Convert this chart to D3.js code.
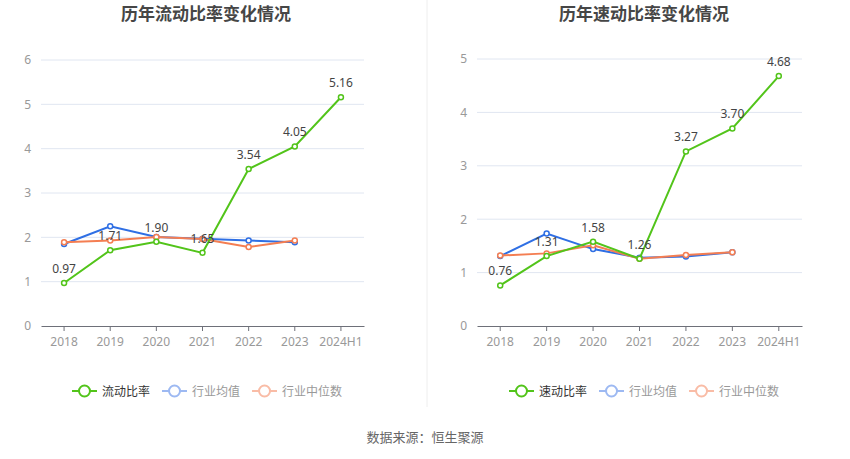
<!DOCTYPE html>
<html>
<head>
<meta charset="utf-8">
<script src="https://cdn.jsdelivr.net/npm/d3@7"></script>
<style>
  body { margin: 0; background: #fff; }
  svg { display: block; font-family: "Noto Sans CJK SC", "Noto Sans", sans-serif; }
</style>
</head>
<body>
<svg id="chart"></svg>
<script>
const years = ['2018', '2019', '2020', '2021', '2022', '2023', '2024H1']

// 流动比率
const currentRatio = [0.97, 1.71, 1.90, 1.65, 3.54, 4.05, 5.16]
const currentIndustryAvg = [1.85, 2.25, 2.01, 1.97, 1.93, 1.89]
const currentIndustryMedian = [1.89, 1.93, 2.01, 1.96, 1.78, 1.93]
const currentTicks = [0, 1, 2, 3, 4, 5, 6]

// 速动比率
const quickRatio = [0.76, 1.31, 1.58, 1.26, 3.27, 3.70, 4.68]
const quickIndustryAvg = [1.31, 1.73, 1.44, 1.28, 1.30, 1.38]
const quickIndustryMedian = [1.32, 1.36, 1.51, 1.26, 1.33, 1.38]
const quickTicks = [0, 1, 2, 3, 4, 5]

const width = 850
const height = 459

const green = '#52c41a'
const blue = '#2f6fe4'
const orange = '#f47e52'

const svg = d3.select('#chart')
    .attr('width', width)
    .attr('height', height)

const drawPanel = (opts) => {
    const g = svg.append('g')

    const x = d3.scaleBand()
        .domain(years)
        .range([opts.left, opts.right])
    const y = d3.scaleLinear()
        .domain([0, d3.max(opts.ticks)])
        .range([326, opts.top])

    g.append('text')
        .attr('x', opts.titleX)
        .attr('y', 20)
        .attr('text-anchor', 'middle')
        .style('font-size', '17px')
        .style('font-weight', 'bold')
        .style('fill', '#464646')
        .text(opts.title)

    // grid
    g.append('g')
        .selectAll('line')
        .data(opts.ticks.slice(1))
        .enter()
        .append('line')
        .attr('x1', opts.left)
        .attr('x2', opts.right)
        .attr('y1', d => y(d))
        .attr('y2', d => y(d))
        .attr('stroke', '#e0e6f1')

    const yAxis = d3.axisLeft(y).tickValues(opts.ticks).tickFormat(d3.format('d'))
        .tickSize(0).tickPadding(10)
    const yg = g.append('g')
        .attr('transform', `translate(${opts.left}, 0)`)
        .call(yAxis)
    yg.select('.domain').remove()
    yg.selectAll('text').style('fill', '#999').style('font-size', '12px')
        .style('font-family', '"Noto Sans", sans-serif')

    const xAxis = d3.axisBottom(x).tickSize(5).tickSizeOuter(0).tickPadding(6)
    const xg = g.append('g')
        .attr('transform', 'translate(0, 326)')
        .call(xAxis)
    xg.select('.domain').attr('stroke', '#6e7079')
    xg.selectAll('.tick line').attr('stroke', '#6e7079')
    xg.selectAll('text').style('fill', '#999').style('font-size', '12px')
        .style('font-family', '"Noto Sans", sans-serif')

    const cx = (d, i) => x(years[i]) + x.bandwidth() / 2
    const line = d3.line().x(cx).y(d => y(d))

    const series = [
        { data: opts.avg, color: blue },
        { data: opts.median, color: orange },
        { data: opts.main, color: green }
    ]
    series.forEach(s => {
        g.append('path')
            .datum(s.data)
            .attr('d', line)
            .attr('fill', 'none')
            .attr('stroke', s.color)
            .attr('stroke-width', 2)
        g.append('g')
            .selectAll('circle')
            .data(s.data)
            .enter()
            .append('circle')
            .attr('cx', cx)
            .attr('cy', d => y(d))
            .attr('r', 2.5)
            .attr('fill', '#fff')
            .attr('stroke', s.color)
            .attr('stroke-width', 1.5)
    })

    g.append('g')
        .selectAll('text')
        .data(opts.main)
        .enter()
        .append('text')
        .attr('x', cx)
        .attr('y', d => y(d) - 10)
        .attr('text-anchor', 'middle')
        .style('font-size', '12px')
        .style('font-family', '"Noto Sans", sans-serif')
        .style('fill', '#444')
        .text(d => d.toFixed(2))

    // legend
    const items = [
        { name: opts.mainName, color: green, text: '#333' },
        { name: '行业均值', color: '#9db9f2', text: '#999' },
        { name: '行业中位数', color: '#f9bca6', text: '#999' }
    ]
    let lx = opts.legendX
    items.forEach(it => {
        const lg = g.append('g').attr('transform', `translate(${lx}, 391)`)
        lg.append('line')
            .attr('x1', 0).attr('x2', 25)
            .attr('stroke', it.color).attr('stroke-width', 2)
        lg.append('circle')
            .attr('cx', 12.5).attr('r', 5.5)
            .attr('fill', '#fff')
            .attr('stroke', it.color).attr('stroke-width', 2)
        const t = lg.append('text')
            .attr('x', 30).attr('y', 4.5)
            .style('font-size', '12px')
            .style('fill', it.text)
            .text(it.name)
        lx += 30 + t.node().getComputedTextLength() + 12
    })
}

drawPanel({
    title: '历年流动比率变化情况', titleX: 206,
    left: 41, right: 364, top: 60,
    ticks: currentTicks,
    main: currentRatio, avg: currentIndustryAvg, median: currentIndustryMedian,
    mainName: '流动比率', legendX: 72
})

drawPanel({
    title: '历年速动比率变化情况', titleX: 644,
    left: 477, right: 802, top: 59,
    ticks: quickTicks,
    main: quickRatio, avg: quickIndustryAvg, median: quickIndustryMedian,
    mainName: '速动比率', legendX: 509
})

svg.append('line')
    .attr('x1', 427).attr('x2', 427)
    .attr('y1', 0).attr('y2', 407)
    .attr('stroke', '#eee')

svg.append('text')
    .attr('x', 425)
    .attr('y', 442)
    .attr('text-anchor', 'middle')
    .style('font-size', '13px')
    .style('fill', '#666')
    .text('数据来源：恒生聚源')
</script>
</body>
</html>
